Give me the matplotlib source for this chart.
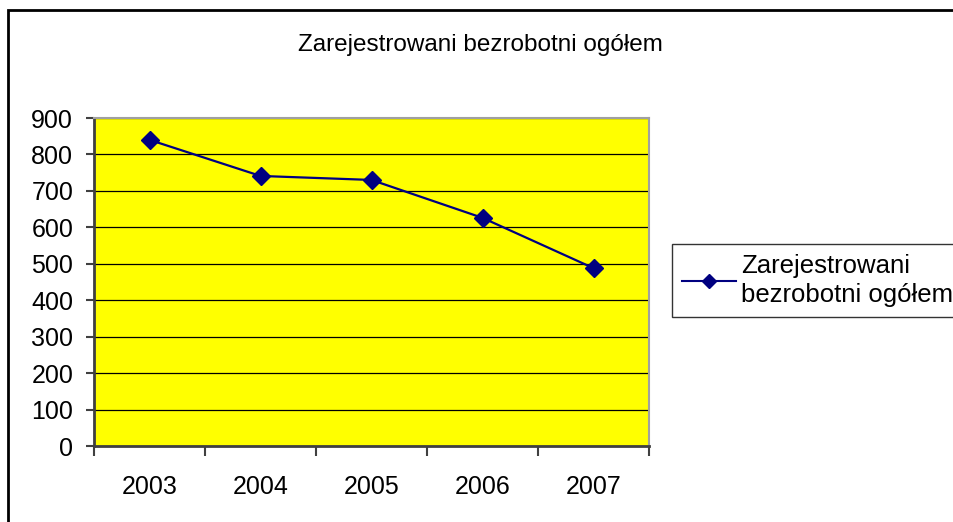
import matplotlib.pyplot as plt
from matplotlib.patches import Rectangle
from matplotlib.ticker import FixedLocator, NullFormatter

lata = ["2003", "2004", "2005", "2006", "2007"]
bezrobotni = [840, 741, 730, 626, 488]
tytul = "Zarejestrowani bezrobotni ogółem"
etykieta = "Zarejestrowani\nbezrobotni ogółem"

plt.rcParams["font.family"] = ["Liberation Sans", "DejaVu Sans"]

W, H = 954, 522
fig = plt.figure(figsize=(W / 100, H / 100), dpi=100)

# ramka wykresu (prawa i dolna krawedz ucieta)
fig.patches.append(Rectangle((8 / W, -0.1), 1.1, (H - 10) / H + 0.1, transform=fig.transFigure,
                             fill=False, edgecolor="black", lw=2))

ax = fig.add_axes([94 / W, (H - 446) / H, (649 - 94) / W, (446 - 118) / H])
ax.set_facecolor("#ffff00")

x = list(range(len(lata)))
ax.plot(x, bezrobotni, color="#000080", lw=1.6, marker="D", markersize=9,
        markerfacecolor="#000080", markeredgecolor="#000080", label=etykieta)

ax.set_xlim(-0.5, len(lata) - 0.5)
ax.set_ylim(0, 900)
ax.set_yticks(range(0, 901, 100))
ax.yaxis.grid(True, color="black", lw=0.9)
ax.set_axisbelow(True)

ax.xaxis.set_major_locator(FixedLocator([i - 0.5 for i in range(len(lata) + 1)]))
ax.xaxis.set_major_formatter(NullFormatter())
ax.xaxis.set_minor_locator(FixedLocator(x))
ax.set_xticklabels(lata, minor=True)
ax.tick_params(axis="x", which="minor", length=0, labelsize=18, pad=21)
ax.tick_params(axis="x", which="major", length=7, width=1.5, color="#404040")
ax.tick_params(axis="y", length=6, width=1.5, color="#404040", labelsize=18, pad=9)

for s in ["left", "bottom"]:
    ax.spines[s].set_color("#404040")
    ax.spines[s].set_linewidth(2)
for s in ["top", "right"]:
    ax.spines[s].set_color("#a0a0a0")
    ax.spines[s].set_linewidth(1.5)

fig.text(480 / W, (H - 45) / H, tytul, ha="center", va="center", fontsize=17.5)

leg = fig.legend(loc="upper left", bbox_to_anchor=(672 / W, (H - 244) / H),
                 fontsize=18.5, frameon=True, fancybox=False, handlelength=2.1,
                 handletextpad=0.2, borderpad=0.4, borderaxespad=0)
leg.get_frame().set_edgecolor("black")
leg.get_frame().set_linewidth(1)
leg.get_lines()[0].set_markersize(7)
leg.get_lines()[0].set_linewidth(1.5)
for t in leg.get_texts():
    t.set_linespacing(1.25)

fig.savefig("out.png", dpi=100)
